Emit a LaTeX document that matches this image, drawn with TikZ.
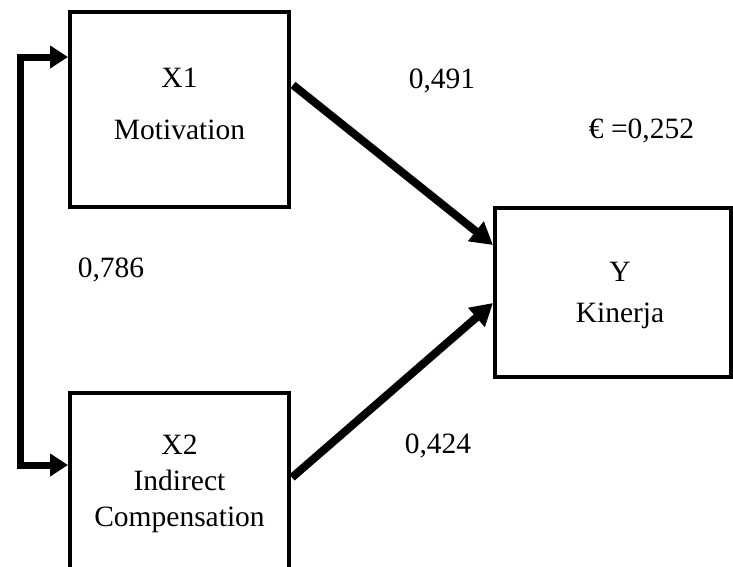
\documentclass[tikz,border=0pt]{standalone}
\usepackage{fontspec}
\setmainfont{Liberation Serif}
\usepackage{tikz}
\usetikzlibrary{arrows.meta, positioning, calc}
\tikzset{
    base/.style={draw=black, line width=4pt, font=\fontsize{29.5}{36}\selectfont, align=center, inner sep=0pt},
    varbox/.style={base, rectangle, fill=white},
    coef/.style={font=\fontsize{29.5}{36}\selectfont, inner sep=0pt, anchor=base},
    pathline/.style={draw=black, line width=8pt, -{Triangle[length=22pt, width=24pt]}},
    corrline/.style={draw=black, line width=7pt, {Triangle[length=18pt, width=22pt]}-{Triangle[length=18pt, width=22pt]}}
}
\begin{document}
\begin{tikzpicture}[x=1pt, y=-1pt]
    \useasboundingbox (0,0) rectangle (733,566);
    \clip (0,0) rectangle (733,566);
    \node [varbox, minimum width=219pt, minimum height=195pt] (X1) at (179.5,109.5) {X1\\[16pt]Motivation\strut};
    \node [varbox, minimum width=219pt, minimum height=181pt, below=182pt of X1.south, anchor=north] (X2) {X2\\Indirect\\Compensation};
    \node [varbox, minimum width=236pt, minimum height=169pt] (Y) at (613,292.5) {\hspace*{14pt}\strut Y\\[5pt]\hspace*{14pt}Kinerja};

    \node [coef] (b1) at (442,88) {0,491};
    \node [coef] (b2) at (438,453) {0,424};
    \node [coef] (r12) at (111,277) {0,786};
    \node [coef] (err) at (641.5,138) {€ =0,252};

    \draw [pathline] ($(X1.east)+(2,-24.5)$) -- ($(Y.west)+(0,-47.5)$);
    \draw [pathline] ($(X2.east)+(1,-6)$) -- ($(Y.west)+(0,10.5)$);
    \draw [corrline] ($(X1.west)+(0,-52.5)$) -- ++(-48,0) |- ($(X2.west)+(0,-18.5)$);
\end{tikzpicture}
\end{document}
